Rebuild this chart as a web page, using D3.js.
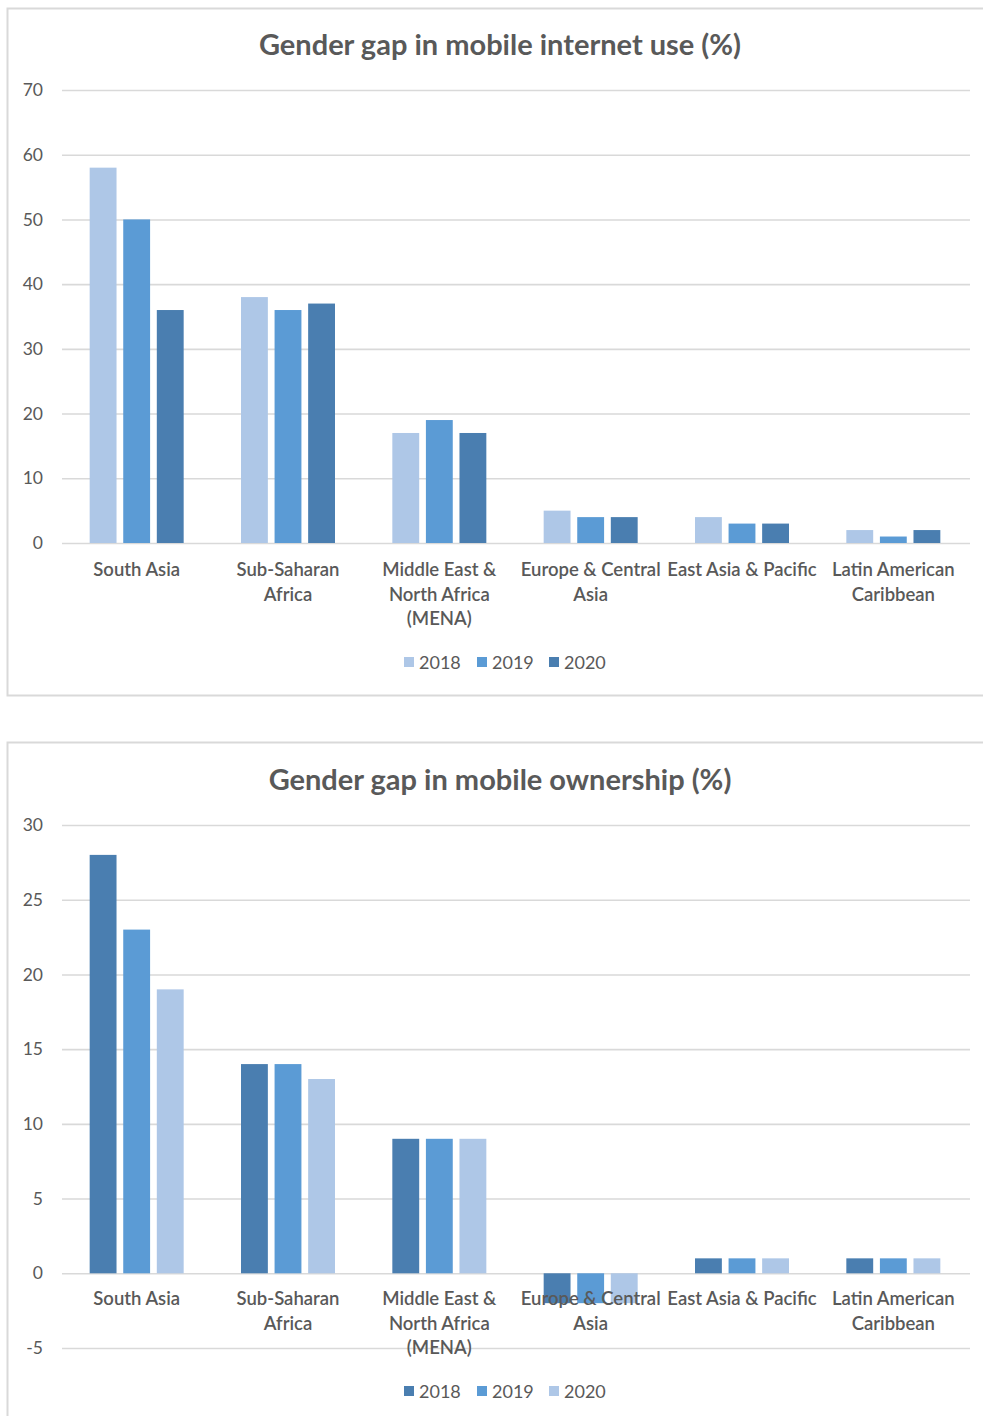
<!DOCTYPE html>
<html>
<head>
<meta charset="utf-8">
<script src="https://cdn.jsdelivr.net/npm/d3@7"></script>
<style>
  html, body { margin: 0; padding: 0; background: #fff; }
  svg { display: block; }
  text { font-family: Lato, "Open Sans", sans-serif; fill: #595959; }
</style>
</head>
<body>
<svg id="chart" width="983" height="1416"></svg>
<script>
// Regions, each given as the lines of its axis label
const categories = ["South Asia", "Sub-Saharan Africa", "Middle East & North Africa (MENA)",
  "Europe & Central Asia", "East Asia & Pacific", "Latin American Caribbean"];
const categoryLines = [
  ["South Asia"],
  ["Sub-Saharan", "Africa"],
  ["Middle East &", "North Africa", "(MENA)"],
  ["Europe & Central", "Asia"],
  ["East Asia & Pacific"],
  ["Latin American", "Caribbean"]
];
const years = ["2018", "2019", "2020"];

// Gender gap in mobile internet use (%)
const internet2018 = [58, 38, 17, 5, 4, 2];
const internet2019 = [50, 36, 19, 4, 3, 1];
const internet2020 = [36, 37, 17, 4, 3, 2];
const internetTicks = [0, 10, 20, 30, 40, 50, 60, 70];

// Gender gap in mobile ownership (%)
const ownership2018 = [28, 14, 9, -2, 1, 1];
const ownership2019 = [23, 14, 9, -2, 1, 1];
const ownership2020 = [19, 13, 9, -2, 1, 1];
const ownershipTicks = [-5, 0, 5, 10, 15, 20, 25, 30];

const light = "#aec7e7", mid = "#5b9bd5", dark = "#4a7eb0";

const svg = d3.select("#chart");

function drawPanel(cfg) {
  const g = svg.append("g");

  // panel frame
  g.append("rect")
    .attr("x", 7.5).attr("y", cfg.frameTop + 0.5)
    .attr("width", 990).attr("height", cfg.frameHeight)
    .attr("fill", "#fff").attr("stroke", "#d9d9d9").attr("stroke-width", 2);

  g.append("text")
    .attr("x", 500).attr("y", cfg.titleY)
    .attr("text-anchor", "middle")
    .attr("font-size", 29).attr("font-weight", 700)
    .text(cfg.title);

  const y = d3.scaleLinear().domain(cfg.domain).range([cfg.yBottom, cfg.yTop]);
  const x0 = d3.scaleBand().domain(categories).range([62, 970]);
  const groupW = 94;
  const x1 = d3.scaleBand().domain(years)
    .range([(x0.bandwidth() - groupW) / 2 - 1, (x0.bandwidth() + groupW) / 2 - 1])
    .paddingInner(0.2);

  // gridlines
  const yAxis = d3.axisLeft(y).tickValues(cfg.ticks).tickSize(-(970 - 62)).tickPadding(19)
    .tickFormat(d => String(d));
  const ga = g.append("g").attr("transform", "translate(62,0)").call(yAxis);
  ga.select(".domain").remove();
  ga.selectAll(".tick line").attr("stroke", "#d9d9d9").attr("stroke-width", 1.6);
  ga.selectAll(".tick text").attr("font-size", 17.5).attr("fill", "#595959")
    .style("font-family", "Lato, 'Open Sans', sans-serif");

  // bars
  const rows = categories.map((c, i) => ({
    cat: c,
    vals: years.map((yr, k) => ({ year: yr, value: cfg.series[k][i] }))
  }));
  const groups = g.append("g").selectAll("g").data(rows).join("g")
    .attr("transform", d => `translate(${x0(d.cat)},0)`);
  groups.selectAll("rect").data(d => d.vals).join("rect")
    .attr("x", d => x1(d.year))
    .attr("width", x1.bandwidth())
    .attr("y", d => y(Math.max(0, d.value)))
    .attr("height", d => Math.abs(y(d.value) - y(0)))
    .attr("fill", d => cfg.colors[years.indexOf(d.year)]);

  // category labels
  const labels = g.append("g").selectAll("text").data(categories).join("text")
    .attr("x", d => x0(d) + x0.bandwidth() / 2)
    .attr("y", cfg.labelY)
    .attr("text-anchor", "middle")
    .attr("font-size", 18.5).attr("font-weight", 600);
  labels.each(function (d, i) {
    d3.select(this).selectAll("tspan").data(categoryLines[i]).join("tspan")
      .attr("x", x0(d) + x0.bandwidth() / 2 - 1)
      .attr("dy", (t, j) => j === 0 ? 0 : 24.5)
      .text(t => t);
  });

  // legend
  const legendX = [404, 477, 549];
  const lg = g.append("g").selectAll("g").data(years).join("g")
    .attr("transform", (d, i) => `translate(${legendX[i]},${cfg.legendY})`);
  lg.append("rect").attr("x", 0).attr("y", -5).attr("width", 10).attr("height", 10)
    .attr("fill", (d, i) => cfg.colors[i]);
  lg.append("text").attr("x", 15).attr("y", 6.5).attr("font-size", 18).text(d => d);
}

drawPanel({
  frameTop: 8, frameHeight: 687,
  title: "Gender gap in mobile internet use (%)", titleY: 55,
  domain: [0, 70], yBottom: 543, yTop: 90, ticks: internetTicks,
  series: [internet2018, internet2019, internet2020],
  colors: [light, mid, dark],
  labelY: 576, legendY: 662
});

drawPanel({
  frameTop: 742, frameHeight: 700,
  title: "Gender gap in mobile ownership (%)", titleY: 790,
  domain: [-5, 30], yBottom: 1348, yTop: 825, ticks: ownershipTicks,
  series: [ownership2018, ownership2019, ownership2020],
  colors: [dark, mid, light],
  labelY: 1305, legendY: 1391
});
</script>
</body>
</html>
